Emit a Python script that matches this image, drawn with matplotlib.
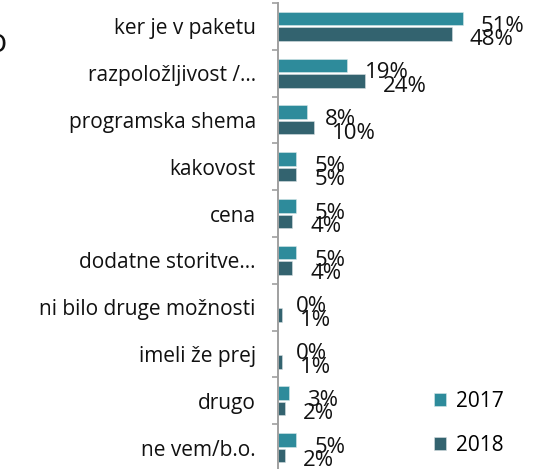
import numpy as np
import matplotlib
matplotlib.use("Agg")
from matplotlib import pyplot as plt

plt.rcParams['font.family'] = ['Open Sans', 'DejaVu Sans']

categories = ["ker je v paketu", "razpoložljivost /...", "programska shema", "kakovost", "cena",
              "dodatne storitve...", "ni bilo druge možnosti", "imeli že prej", "drugo", "ne vem/b.o."]
val_2017 = [51, 19, 8, 5, 5, 5, 0, 0, 3, 5]
val_2018 = [48, 24, 10, 5, 4, 4, 1, 1, 2, 2]
series = ["2017", "2018"]
colors = ["#2E8B9B", "#33636F"]

fig = plt.figure(figsize=(5.36, 4.69), dpi=100)
# axis runs a little past the bottom edge, like the cropped original
ax = fig.add_axes([0.5187, -0.0043, 0.4813, 0.998])

y = np.arange(len(categories))
h = 0.29
off = 0.165
ax.barh(y - off, val_2017, height=h, color=colors[0], edgecolor="#d8e8ea", linewidth=0.4, label=series[0])
ax.barh(y + off, val_2018, height=h, color=colors[1], edgecolor="#d8e0e2", linewidth=0.4, label=series[1])

# value labels, big and overlapping like the original
for i in range(len(categories)):
    ax.annotate(f"{val_2017[i]}%", (val_2017[i], y[i] - off), xytext=(13, -9.3), textcoords="offset points",
                va="baseline", ha="left", fontsize=16, color="#111111")
    ax.annotate(f"{val_2018[i]}%", (val_2018[i], y[i] + off), xytext=(13, -7.8), textcoords="offset points",
                va="baseline", ha="left", fontsize=16, color="#111111")

ax.set_xlim(0, 71.3)
ax.set_ylim(len(categories) - 0.5, -0.5)
ax.set_yticks(y)
ax.set_yticklabels(categories, fontsize=15, color="#111111")
ax.set_yticks(np.arange(len(categories) + 1) - 0.5, minor=True)
ax.tick_params(axis="y", which="major", length=0, pad=16)
ax.tick_params(axis="y", which="minor", length=4.5, width=1.2, color="#A0A0A0")
ax.set_xticks([])
for s in ["top", "right", "bottom"]:
    ax.spines[s].set_visible(False)
ax.spines["left"].set_color("#A0A0A0")
ax.spines["left"].set_linewidth(1.4)

ax.legend(loc="center left", bbox_to_anchor=(0.794, 0.097), bbox_transform=fig.transFigure,
          frameon=False, fontsize=15, handlelength=0.58, handleheight=0.58, handletextpad=0.5,
          labelspacing=1.09, borderaxespad=0)

# piece of the cut-off title at the left edge
fig.text(-3 / 536, 0.889, "o", fontsize=23, color="#111111", ha="center", va="baseline")

fig.savefig("out.png", dpi=100)
